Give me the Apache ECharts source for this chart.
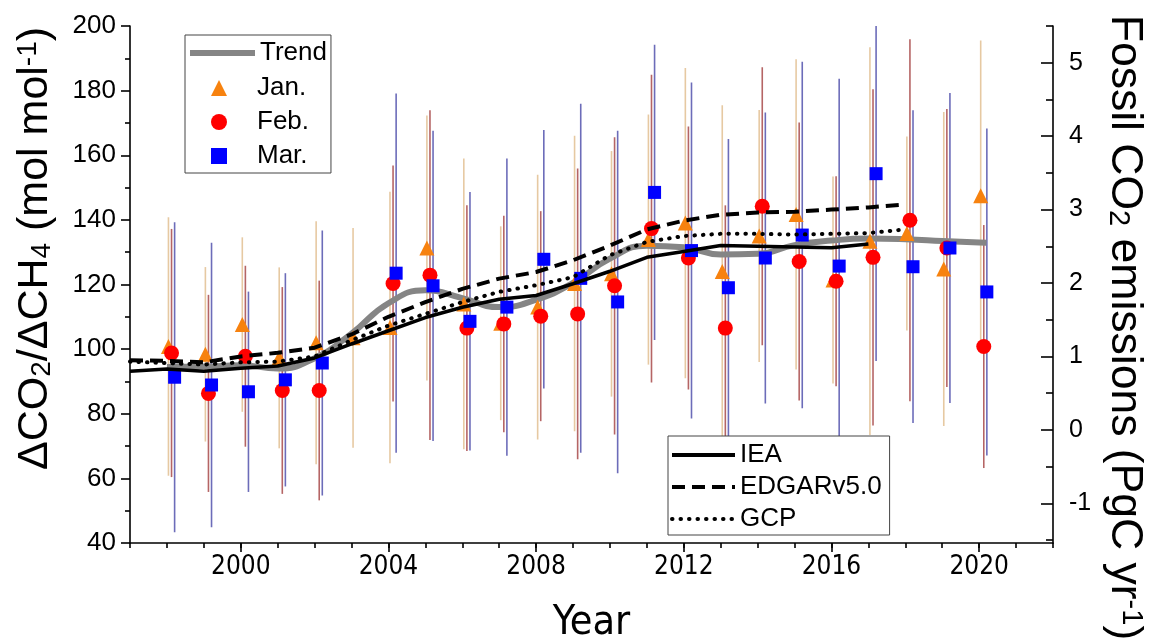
<!DOCTYPE html>
<html><head><meta charset="utf-8">
<script src="https://cdn.jsdelivr.net/npm/echarts@6/dist/echarts.min.js"></script>
<style>html,body{margin:0;padding:0;background:#fff}#c{width:1155px;height:643px}</style>
</head><body><div id="c"></div>
<script>
// ---- data ----
const years = [1998,1999,2000,2001,2002,2003,2004,2005,2006,2007,2008,2009,2010,2011,2012,2013,2014,2015,2016,2017,2018,2019,2020];
const janRatio = [100.8,98.4,107.6,97.3,102,103.5,106.7,131.3,114,108,113,120.3,123.3,133.9,139,124,135,141.7,121.4,133.4,135.8,124.8,147.5];
const janErr   = [40,27,27,28,37.6,34,42,41,45,30,41,45.7,38,38.7,48,51.5,39,48,32,60,30,48.6,48];
const febRatio = [98.8,86.3,97.8,87.2,87.2,null,120.3,122.9,106.5,107.8,110.2,110.9,119.6,137.3,128.2,106.5,144.2,127.1,121,128.4,139.9,131.3,100.8];
const febErr   = [38.4,30.5,28,32,34,null,36.5,51,38,33.5,32.5,45,46,47.6,40.7,38,43,43,32.5,52,56,43,37.6];
const marRatio = [91.3,88.9,86.8,90.5,95.7,null,123.5,119.6,108.6,113,127.8,121.9,114.6,148.5,130.5,119,128.2,135.3,125.7,154.3,125.5,131.3,117.7];
const marErr   = [48,44,31,33,41,null,55.6,48,40,46,40,54,53,45.7,52,46,45,53.6,58,58,48.4,48,50.6];

const trendYears = [1998,1999,2000,2001,2002,2003,2004,2005,2006,2007,2008,2009,2010,2011,2012,2013,2014,2015,2016,2017,2018,2019,2020,2020.2];
const trendRatio = [94.5,94.6,95,94,97.2,104.8,114.2,118.2,115.8,113,115.3,120.5,128,132,131.5,129.3,129.5,132.2,133.6,134.2,134,133.5,133,132.9];
const bandUpper  = [112,112.3,112.8,111.3,114.5,122.3,131,135.3,133.5,130.7,134.5,141.5,146.5,149.5,149.3,147.6,147.5,149,150.2,150.8,151.3,151,150.4,150.3];
const bandLower  = [77,77.1,77.4,76.6,80,87.5,96.5,100.5,98,95.6,96.5,102.5,109.5,113.8,113.7,112,111.8,113.7,115.2,116.3,116.6,116.2,115.8,115.7];

const ieaYears = [1997,1998,1999,2000,2001,2002,2003,2004,2005,2006,2007,2008,2009,2010,2011,2012,2013,2014,2015,2016,2017];
const ieaEmis  = [0.80,0.83,0.80,0.84,0.87,0.98,1.17,1.35,1.53,1.67,1.78,1.83,1.99,2.16,2.35,2.43,2.51,2.50,2.49,2.48,2.53];
const edgarYears = [1997,1998,1999,2000,2001,2002,2003,2004,2005,2006,2007,2008,2009,2010,2011,2012,2013,2014,2015,2016,2017,2018];
const edgarEmis  = [0.95,0.94,0.92,1.00,1.05,1.12,1.30,1.54,1.74,1.92,2.06,2.15,2.31,2.51,2.73,2.85,2.93,2.96,2.97,3.00,3.03,3.07];
const gcpYears = [1997,1998,1999,2000,2001,2002,2003,2004,2005,2006,2007,2008,2009,2010,2011,2012,2013,2014,2015,2016,2017,2018];
const gcpEmis  = [0.93,0.91,0.89,0.92,0.93,1.00,1.22,1.42,1.58,1.74,1.88,1.97,2.08,2.38,2.56,2.64,2.67,2.67,2.66,2.67,2.68,2.73];

const xTickLabels = [2000,2004,2008,2012,2016,2020];
const rightTicks = [-1,0,1,2,3,4,5];
const rightMinorTicks = [-1.5,-0.5,0.5,1.5,2.5,3.5,4.5,5.5];

// ---- build ----
const FONT = 'Liberation Sans, Arial, sans-serif';
const NARROW = '"Liberation Sans Narrow", "Arial Narrow", "DejaVu Sans Condensed", sans-serif';
const monthOffset = m => (m - 0.5) / 12;
function pts(vals, m) { const o=[]; years.forEach((y,i)=>{ if(vals[i]!=null) o.push([y+monthOffset(m), vals[i]]); }); return o; }
function errPts(vals, errs, m) { const o=[]; years.forEach((y,i)=>{ if(vals[i]!=null) o.push([y+monthOffset(m), vals[i], errs[i]]); }); return o; }
const zip = (xs, ys) => xs.map((x,i)=>[x, ys[i]]);

function errSeries(name, data, color) {
  return {
    name, type: 'custom', data, z: 2, clip: true, silent: true,
    encode: {x: 0, y: 1},
    renderItem: function(params, api) {
      const x = api.value(0), v = api.value(1), e = api.value(2);
      const p1 = api.coord([x, v - e]), p2 = api.coord([x, v + e]);
      return {type: 'line', shape: {x1: p1[0], y1: p1[1], x2: p2[0], y2: p2[1]},
              style: {stroke: color, lineWidth: 1.6}};
    }
  };
}

const axisLineStyle = {color: '#000', width: 1.6};
function richSubSup(fs) {
  return {
    sub: {fontSize: fs, lineHeight: 12, verticalAlign: 'bottom', fontFamily: FONT},
    sup: {fontSize: fs, lineHeight: 20, verticalAlign: 'top', fontFamily: FONT}
  };
}
const option = {
  animation: false,
  backgroundColor: '#fff',
  textStyle: {fontFamily: FONT},
  grid: {left: 130, right: 102, top: 26, bottom: 100, containLabel: false, outerBoundsMode: 'none'},
  xAxis: [{
    type: 'value', min: 1997, max: 2022, interval: 1, position: 'bottom',
    name: 'Year', nameLocation: 'middle', nameGap: 60,
    nameTextStyle: {fontSize: 41, color: '#000', fontFamily: NARROW},
    axisLine: {show: true, onZero: false, lineStyle: axisLineStyle},
    axisTick: {show: true, length: 5, lineStyle: axisLineStyle},
    axisLabel: {fontSize: 26, color: '#000', margin: 11, fontFamily: NARROW,
      formatter: v => xTickLabels.indexOf(v) >= 0 ? String(v) : ''},
    splitLine: {show: false}
  }, {
    type: 'value', min: 1997, max: 2022, position: 'bottom',
    axisLine: {show: false, onZero: false},
    axisTick: {show: true, length: 9, customValues: xTickLabels, lineStyle: axisLineStyle},
    axisLabel: {show: false}, splitLine: {show: false}
  }],
  yAxis: [{
    type: 'value', min: 40, max: 200, interval: 20, position: 'left',
    name: 'ΔCO{sub|2}/ΔCH{sub|4} (mol mol{sup|-1})', nameLocation: 'middle', nameGap: 74, nameRotate: 90,
    nameTextStyle: {fontSize: 43, lineHeight: 42, color: '#000', fontFamily: FONT, padding: [0,0,0,72], rich: richSubSup(28)},
    axisLine: {show: true, onZero: false, lineStyle: axisLineStyle},
    axisTick: {show: true, length: 9, lineStyle: axisLineStyle},
    minorTick: {show: true, splitNumber: 2, length: 5, lineStyle: axisLineStyle},
    axisLabel: {fontSize: 26, color: '#000', margin: 14, fontFamily: FONT},
    splitLine: {show: false}, minorSplitLine: {show: false}
  }, {
    type: 'value', min: -1.54, max: 5.5, position: 'right',
    name: 'Fossil CO{sub|2} emissions (PgC yr{sup|-1})', nameLocation: 'middle', nameGap: 48, nameRotate: -90,
    nameTextStyle: {fontSize: 44.5, lineHeight: 42, color: '#000', fontFamily: FONT, padding: [0,0,0,86], rich: richSubSup(29)},
    axisLine: {show: true, onZero: false, lineStyle: axisLineStyle},
    axisTick: {show: true, inside: true, length: 12, customValues: rightTicks, lineStyle: axisLineStyle},
    axisLabel: {fontSize: 25, color: '#000', margin: 16, customValues: rightTicks, fontFamily: FONT},
    splitLine: {show: false}
  }, {
    type: 'value', min: -1.54, max: 5.5, position: 'right',
    axisLine: {show: false, onZero: false},
    axisTick: {show: true, inside: true, length: 7, customValues: rightMinorTicks, lineStyle: axisLineStyle},
    axisLabel: {show: false}, splitLine: {show: false}
  }],
  legend: [{
    // box + trend entry
    data: [{name: 'Trend', itemStyle: {opacity: 0}}],
    orient: 'vertical', left: 185, top: 35, itemWidth: 65, itemHeight: 16,
    textStyle: {fontSize: 26, color: '#000', fontFamily: FONT},
    lineStyle: {width: 6},
    borderColor: '#444', borderWidth: 1, padding: [5, 4, 107, 2], backgroundColor: '#fff',
    selectedMode: false, z: 20
  }, {
    // marker entries inside the same box
    data: [{name: 'Jan.', icon: 'triangle'}, {name: 'Feb.', icon: 'circle'}, {name: 'Mar.', icon: 'rect'}],
    orient: 'vertical', left: 211, top: 75, itemWidth: 16, itemHeight: 16, itemGap: 8,
    textStyle: {fontSize: 26, color: '#000', fontFamily: FONT, padding: [0, 0, 0, 25]},
    padding: 0, borderWidth: 0, backgroundColor: 'transparent',
    selectedMode: false, z: 21
  }, {
    data: [{name: 'IEA', itemStyle: {opacity: 0}}, {name: 'EDGARv5.0', itemStyle: {opacity: 0}}, {name: 'GCP', itemStyle: {opacity: 0}}],
    orient: 'vertical', left: 668, top: 436, itemWidth: 63, itemHeight: 16, itemGap: 6,
    textStyle: {fontSize: 26, color: '#000', fontFamily: FONT},
    lineStyle: {width: 4},
    borderColor: '#444', borderWidth: 1, padding: [6, 8, 3, 2], backgroundColor: '#fff',
    selectedMode: false, z: 20
  }],
  series: [
    {name: 'bandLow', type: 'line', data: zip(trendYears, bandLower), stack: 'band', smooth: true,
     symbol: 'none', lineStyle: {opacity: 0}, silent: true, z: 1},
    {name: 'bandWidth', type: 'line', data: trendYears.map((x,i)=>[x, bandUpper[i]-bandLower[i]]), stack: 'band', smooth: true,
     symbol: 'none', lineStyle: {opacity: 0}, areaStyle: {color: '#d9d9d9', opacity: 1}, silent: true, z: 1},
    errSeries('Jan. err', errPts(janRatio, janErr, 1), 'rgba(214,165,100,0.6)'),
    errSeries('Feb. err', errPts(febRatio, febErr, 2), 'rgba(150,35,35,0.7)'),
    errSeries('Mar. err', errPts(marRatio, marErr, 3), 'rgba(45,45,155,0.7)'),
    {name: 'Trend', type: 'line', data: zip(trendYears, trendRatio), smooth: true, symbol: 'none',
     lineStyle: {color: '#858585', width: 6}, itemStyle: {color: '#858585'}, z: 3},
    {name: 'Jan.', type: 'scatter', data: pts(janRatio, 1), symbol: 'triangle', symbolSize: 15,
     itemStyle: {color: '#f7820f', opacity: 1}, z: 4},
    {name: 'Feb.', type: 'scatter', data: pts(febRatio, 2), symbol: 'circle', symbolSize: 15,
     itemStyle: {color: '#ff0000', opacity: 1}, z: 4},
    {name: 'Mar.', type: 'scatter', data: pts(marRatio, 3), symbol: 'rect', symbolSize: 13,
     itemStyle: {color: '#0000ff', opacity: 1}, z: 4},
    {name: 'IEA', type: 'line', yAxisIndex: 1, data: zip(ieaYears, ieaEmis), symbol: 'none',
     lineStyle: {color: '#000', width: 3.5}, itemStyle: {color: '#000'}, z: 5},
    {name: 'EDGARv5.0', type: 'line', yAxisIndex: 1, data: zip(edgarYears, edgarEmis), symbol: 'none',
     lineStyle: {color: '#000', width: 4, type: [13, 7]}, itemStyle: {color: '#000'}, z: 5},
    {name: 'GCP', type: 'line', yAxisIndex: 1, data: zip(gcpYears, gcpEmis), symbol: 'none',
     lineStyle: {color: '#000', width: 4, type: [0.5, 8], cap: 'round'}, itemStyle: {color: '#000'}, z: 5}
  ]
};
const chart = echarts.init(document.getElementById('c'), null, {renderer: 'canvas'});
chart.setOption(option);
</script></body></html>
